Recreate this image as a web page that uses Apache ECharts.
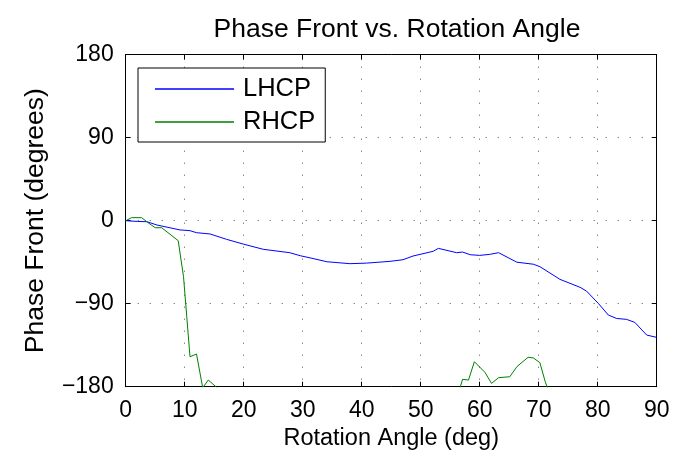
<!DOCTYPE html>
<html>
<head>
<meta charset="utf-8">
<script src="https://cdn.jsdelivr.net/npm/echarts@6/dist/echarts.min.js"></script>
<style>
  html, body { margin: 0; padding: 0; background: #fff; }
  #chart { width: 675px; height: 457px; }
</style>
</head>
<body>
<div id="chart"></div>
<script>
// Rotation angle (deg) and measured phase front (deg) for each polarisation
const lhcpAngle = [0, 2, 3.6, 5.3, 7, 9.2, 10.9, 12, 14.3, 17.1, 19.9, 23.3, 27.8, 29.6, 31.4, 34.1, 38, 40.8, 44.8, 47, 48.7, 52.1, 53, 56.1, 57.1, 58.4, 60, 61.7, 63.2, 66.3, 69.1, 70.2, 73.6, 77, 78.1, 80.1, 81.8, 83.2, 84.9, 86.3, 88.3, 90];
const lhcpPhase = [0, -0.8, -1.1, -4.7, -7, -10, -10.8, -13, -14.4, -20.2, -25.3, -31, -34.7, -38, -40.5, -44.5, -46.6, -46, -44.1, -42.3, -38.3, -33.2, -30, -34.7, -34, -36.9, -37.6, -36.5, -34.7, -45, -47.2, -49.8, -63.6, -72.2, -76.3, -89.6, -102.3, -106, -107, -110.3, -124, -126.5];

// RHCP drops below the -180 axis limit over most of the sweep
const rhcpAngle = [0, 1, 2.7, 3.8, 5, 6.1, 8.9, 9.8, 10.9, 12, 13.05, 14, 16, 20, 30, 40, 50, 56, 57.1, 58.1, 59.1, 60.9, 62, 63.2, 65.1, 66.3, 68.2, 69.1, 70.2, 71.1, 72, 80, 90];
const rhcpPhase = [0, 3.3, 3.3, -2.2, -7.6, -7.6, -21.7, -60.7, -147.5, -144.6, -181, -172.8, -184, -200, -205, -210, -205, -195, -172, -172.8, -152.9, -164.5, -176.4, -170.2, -169.2, -158.3, -148.1, -148.8, -153.9, -174.5, -190, -200, -205];

const xTicks = { min: 0, max: 90, interval: 10 };
const yTicks = { min: -180, max: 180, interval: 90 };

const pairs = (xs, ys) => xs.map((x, i) => [x, ys[i]]);

const FONT = 'Liberation Sans, Arial, Helvetica, sans-serif';
const dotted = { show: true, lineStyle: { color: '#555', width: 1, type: [1, 11] } };
const tickIn = { show: true, inside: true, length: 5, lineStyle: { color: '#000' } };
const boxLine = { show: true, onZero: false, lineStyle: { color: '#000', width: 1 } };

const chart = echarts.init(document.getElementById('chart'), null, { renderer: 'canvas' });
chart.setOption({
  animation: false,
  backgroundColor: '#fff',
  title: {
    text: 'Phase Front vs. Rotation Angle',
    left: 392, top: 11, textAlign: 'center',
    textStyle: { fontFamily: FONT, fontSize: 26.5, fontWeight: 'normal', color: '#000' }
  },
  grid: { left: 125.7, top: 54.7, right: 18.3, bottom: 70.3, containLabel: false },
  legend: {
    left: 138, top: 68,
    orient: 'vertical',
    padding: [8, 10, 7, 17],
    itemGap: 7,
    icon: 'rect',
    itemWidth: 79, itemHeight: 1.3,
    borderColor: '#000', borderWidth: 1,
    backgroundColor: '#fff',
    textStyle: { fontFamily: FONT, fontSize: 25.5, color: '#000', lineHeight: 26, padding: [0, 0, 0, 4] },
    data: ['LHCP', 'RHCP']
  },
  xAxis: [
    {
      type: 'value', ...xTicks, position: 'bottom',
      name: 'Rotation Angle (deg)', nameLocation: 'middle', nameGap: 40,
      nameTextStyle: { fontFamily: FONT, fontSize: 23.5, color: '#000' },
      axisLine: boxLine, axisTick: tickIn, splitLine: dotted,
      axisLabel: { margin: 12, fontFamily: FONT, fontSize: 23, color: '#000' }
    },
    {
      type: 'value', ...xTicks, position: 'top',
      axisLine: boxLine, axisTick: tickIn, splitLine: { show: false },
      axisLabel: { show: false }
    }
  ],
  yAxis: [
    {
      type: 'value', ...yTicks, position: 'left',
      name: 'Phase Front (degrees)', nameLocation: 'middle', nameGap: 77, nameRotate: 90,
      nameTextStyle: { fontFamily: FONT, fontSize: 26.5, color: '#000' },
      axisLine: boxLine, axisTick: tickIn, splitLine: dotted,
      axisLabel: {
        margin: 12, fontFamily: FONT, fontSize: 23, color: '#000',
        formatter: v => String(v).replace('-', '\u2212')
      }
    },
    {
      type: 'value', ...yTicks, position: 'right',
      axisLine: boxLine, axisTick: tickIn, splitLine: { show: false },
      axisLabel: { show: false }
    }
  ],
  series: [
    {
      name: 'LHCP', type: 'line', xAxisIndex: 0, yAxisIndex: 0,
      data: pairs(lhcpAngle, lhcpPhase),
      symbol: 'none', clip: true,
      lineStyle: { color: '#0000ff', width: 1 }, itemStyle: { color: '#0000ff' }
    },
    {
      name: 'RHCP', type: 'line', xAxisIndex: 0, yAxisIndex: 0,
      data: pairs(rhcpAngle, rhcpPhase),
      symbol: 'none', clip: true,
      lineStyle: { color: '#008000', width: 1 }, itemStyle: { color: '#008000' }
    }
  ]
});
</script>
</body>
</html>
